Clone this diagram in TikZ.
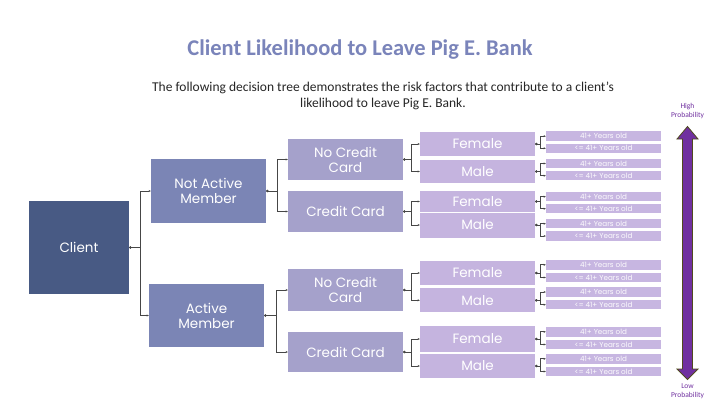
\documentclass[tikz,border=0pt]{standalone}
\usepackage{fontspec}
\setmainfont{Poppins}
\newfontfamily\calfont{Carlito}
\usetikzlibrary{arrows.meta}
\definecolor{clientc}{RGB}{72,90,132}
\definecolor{memberc}{RGB}{123,133,181}
\definecolor{cardc}{RGB}{165,161,203}
\definecolor{genderc}{RGB}{197,180,223}
\definecolor{agec}{RGB}{199,182,225}
\definecolor{titlec}{RGB}{122,132,186}
\definecolor{arrowc}{RGB}{112,48,160}
\definecolor{arrowedge}{RGB}{80,74,30}
\definecolor{linec}{RGB}{70,70,70}
\tikzset{
  box/.style={fill=#1, text=white, inner sep=0pt, align=center, minimum width=115pt},
  bigtxt/.style={font=\fontsize{13.5}{15}\selectfont},
  agebox/.style={box=agec, minimum height=9.5pt, font=\fontsize{7.2}{8}\selectfont, text=white!95!agec},
  conn/.style={draw=linec, line width=0.8pt, {Circle[length=2.2pt]}-{Stealth[length=2.2pt,width=2pt]}},
}
\begin{document}
\begin{tikzpicture}[x=1pt,y=-1pt]
\useasboundingbox[fill=white] (0,0) rectangle (720,405);
% titles
\node[font=\calfont\bfseries\fontsize{22.5}{26}\selectfont, text=titlec] (title) at (360,50) {Client Likelihood to Leave Pig E. Bank};
\node[font=\calfont\fontsize{13.5}{16}\selectfont, text=black!85, align=center] (sub) at (383,96) {The following decision tree demonstrates the risk factors that contribute to a client’s\\likelihood to leave Pig E. Bank.};
% level 0/1
\node[box=clientc, bigtxt, minimum width=100pt, minimum height=93pt] (client) at (79,247.5) {Client};
\node[box=memberc, bigtxt, minimum height=64pt] (nam) at (208.5,191) {Not Active\\Member};
\node[box=memberc, bigtxt, minimum height=63pt] (am) at (206.5,315.5) {Active\\Member};
% level 2
\node[box=cardc, bigtxt, minimum height=41pt] (ncc1) at (345.5,159.5) {No Credit\\Card};
\node[box=cardc, bigtxt, minimum height=41pt] (cc1) at (345.5,211.5) {Credit Card};
\node[box=cardc, bigtxt, minimum height=42pt] (ncc2) at (345.5,290) {No Credit\\Card};
\node[box=cardc, bigtxt, minimum height=40pt] (cc2) at (345.5,352) {Credit Card};
% level 3
\node[box=genderc, bigtxt, minimum height=24pt] (f1) at (477.5,144) {Female};
\node[box=genderc, bigtxt, minimum height=23pt] (m1) at (477.5,171.5) {Male};
\node[box=genderc, bigtxt, minimum height=21pt] (f2) at (477.5,201.5) {Female};
\node[box=genderc, bigtxt, minimum height=25pt] (m2) at (477.5,225) {Male};
\node[box=genderc, bigtxt, minimum height=24pt] (f3) at (477.5,273) {Female};
\node[box=genderc, bigtxt, minimum height=24pt] (m3) at (477.5,300.3) {Male};
\node[box=genderc, bigtxt, minimum height=26pt] (f4) at (477.5,339) {Female};
\node[box=genderc, bigtxt, minimum height=24pt] (m4) at (477.5,366) {Male};
% level 4
\node[agebox] (a1) at (603.5,136.2) {41+ Years old};
\node[agebox] (b1) at (603.5,148.3) {<= 41+ Years old};
\node[agebox] (a2) at (603.5,163.5) {41+ Years old};
\node[agebox] (b2) at (603.5,175.7) {<= 41+ Years old};
\node[agebox] (a3) at (603.5,196.7) {41+ Years old};
\node[agebox] (b3) at (603.5,208.7) {<= 41+ Years old};
\node[agebox] (a4) at (603.5,223.7) {41+ Years old};
\node[agebox] (b4) at (603.5,236) {<= 41+ Years old};
\node[agebox] (a5) at (603.5,264.8) {41+ Years old};
\node[agebox] (b5) at (603.5,277.5) {<= 41+ Years old};
\node[agebox] (a6) at (603.5,292) {41+ Years old};
\node[agebox] (b6) at (603.5,304.7) {<= 41+ Years old};
\node[agebox] (a7) at (603.5,331.8) {41+ Years old};
\node[agebox] (b7) at (603.5,344.5) {<= 41+ Years old};
\node[agebox] (a8) at (603.5,358.8) {41+ Years old};
\node[agebox] (b8) at (603.5,371.5) {<= 41+ Years old};
% connectors
\draw[conn] (client.east) -- ++(11,0) |- (nam.west);
\draw[conn] (client.east) -- ++(11,0) |- (am.west);
\draw[conn] (nam.east) -- ++(11,0) |- (ncc1.west);
\draw[conn] (nam.east) -- ++(11,0) |- (cc1.west);
\draw[conn] (am.east) -- ++(12.5,0) |- (ncc2.west);
\draw[conn] (am.east) -- ++(12.5,0) |- (cc2.west);
\foreach \p/\c in {ncc1/f1, ncc1/m1, cc1/f2, cc1/m2, ncc2/f3, ncc2/m3, cc2/f4, cc2/m4}
  \draw[conn] (\p.east) -- ++(8.5,0) |- (\c.west);
\foreach \g/\i in {f1/1, m1/2, f2/3, m2/4, f3/5, m3/6, f4/7, m4/8}{
  \draw[conn] (\g.east) -- ++(5.5,0) |- (a\i.west);
  \draw[conn] (\g.east) -- ++(5.5,0) |- (b\i.west);
}
% probability arrow
\draw[fill=arrowc, draw=arrowedge, line width=0.8pt, line join=miter]
  (687.5,126.5) -- (698,139) -- (692.5,139) -- (692.5,369) -- (698,369) -- (687.5,379.5)
  -- (677,369) -- (682.5,369) -- (682.5,139) -- (677,139) -- cycle;
\node[font=\calfont\fontsize{7.5}{9.5}\selectfont, text=arrowc, align=center] (high) at (687.5,111) {High\\Probability};
\node[font=\calfont\fontsize{7.5}{9.5}\selectfont, text=arrowc, align=center] (low) at (687.5,391) {Low\\Probability};
\end{tikzpicture}
\end{document}
